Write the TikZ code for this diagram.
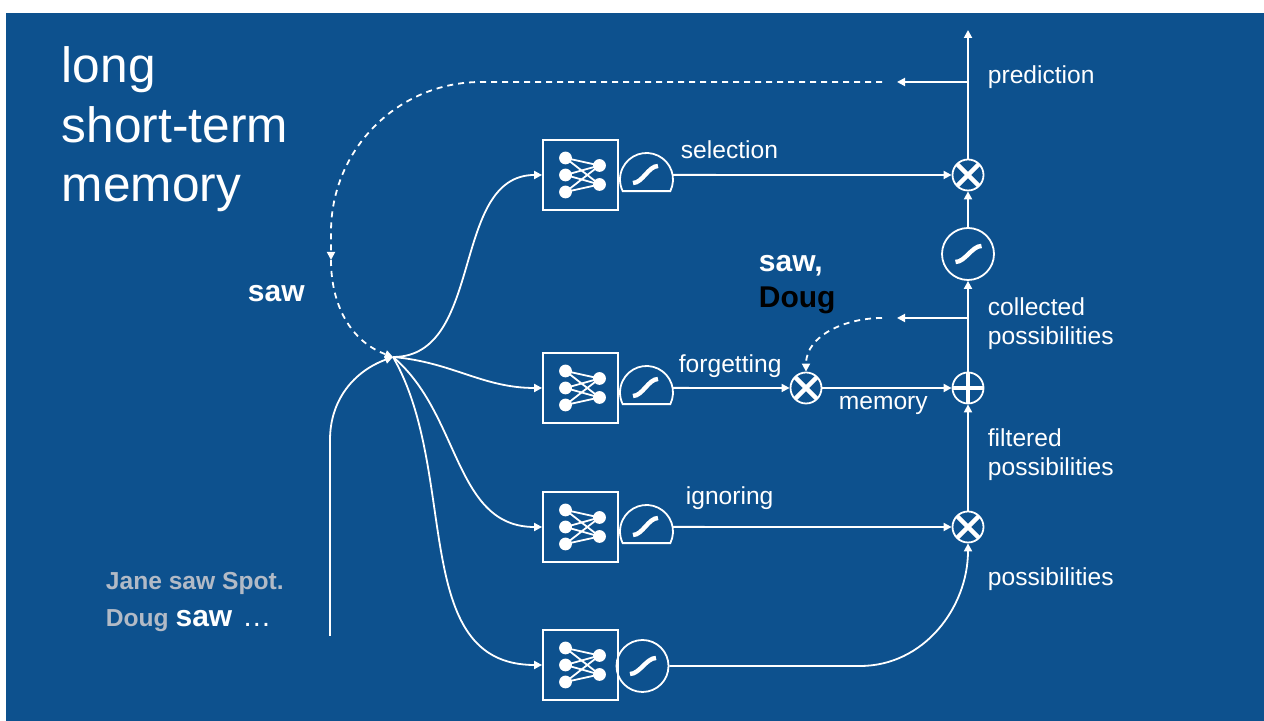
\documentclass[tikz,border=0pt]{standalone}
\usepackage{fontspec}
\setmainfont{Liberation Sans}
\usetikzlibrary{arrows.meta,positioning}
\definecolor{slide}{RGB}{13,81,142}
\definecolor{faded}{RGB}{178,186,198}

\begin{document}
\begin{tikzpicture}[x=0.5pt,y=0.5pt,white,line width=0.9pt,
    >={Triangle[length=4pt,width=4pt]},
    feedback/.style={dash pattern=on 3pt off 2.5pt},
    network/.style={draw, inner sep=0, minimum width=37.5pt, minimum height=35pt,
      path picture={
        \foreach \ly in {8.5,0,-8.5}
          \foreach \ry in {4.75,-4.75}
            \draw[white,line width=0.9pt] ([shift={(-7.5pt,\ly pt)}]path picture bounding box.center)
              -- ([shift={(9.5pt,\ry pt)}]path picture bounding box.center);
        \foreach \ly in {8.5,0,-8.5}
          \fill[white] ([shift={(-7.5pt,\ly pt)}]path picture bounding box.center) circle[radius=3.2pt];
        \foreach \ry in {4.75,-4.75}
          \fill[white] ([shift={(9.5pt,\ry pt)}]path picture bounding box.center) circle[radius=3.2pt];
      }},
    squash/.style={circle, draw, inner sep=0, minimum size=26pt,
      path picture={
        \draw[white,line width=2.2pt] ([shift={(-6.25pt,-4pt)}]path picture bounding box.center)
          to[out=0,in=180,looseness=0.8] ([shift={(6.75pt,4pt)}]path picture bounding box.center);
      }},
    dome/.style={circle, inner sep=0, outer sep=0, minimum size=26.5pt,
      path picture={
        \draw[white,line width=2.2pt] ([shift={(-6.75pt,-1.75pt)}]path picture bounding box.center)
          to[out=0,in=180,looseness=0.8] ([shift={(5.75pt,6.75pt)}]path picture bounding box.center);
      }},
    mult/.style={circle, draw, inner sep=0, minimum size=15.5pt,
      path picture={
        \draw[white,line width=2.2pt] (path picture bounding box.north west) -- (path picture bounding box.south east)
          (path picture bounding box.north east) -- (path picture bounding box.south west);
      }},
    adder/.style={circle, draw, inner sep=0, minimum size=15.5pt,
      path picture={
        \draw[white,line width=2.2pt] (path picture bounding box.north) -- (path picture bounding box.south)
          (path picture bounding box.east) -- (path picture bounding box.west);
      }},
    heading/.style={anchor=base west, inner sep=0, font=\fontsize{24.8pt}{30pt}\selectfont},
    lbl/.style={anchor=west, inner sep=0, align=left, font=\fontsize{12.3pt}{14.5pt}\selectfont},
    word/.style={anchor=base west, inner sep=0, font=\bfseries\fontsize{15pt}{18pt}\selectfont},
    context/.style={anchor=base west, inner sep=0, text=faded, font=\bfseries\fontsize{12.3pt}{15pt}\selectfont}]

   \fill[white] (0,0) rectangle (1264,721);
   \fill[slide] (6,0) rectangle (1264,708);

   \node[heading] (long) at (61,638) {long};
   \node[heading] (short) at (61,578) {short-term};
   \node[heading] (mem) at (61,519) {memory};

   \node[network] (nn1) at (580.5,546) {};
   \node[network] (nn2) at (580.5,333) {};
   \node[network] (nn3) at (580.5,194) {};
   \node[network] (nn4) at (580.5,56) {};
   \node[dome] (d1) at (646.5,541.5) {};
   \node[dome] (d2) at (646.5,328.5) {};
   \node[dome] (d3) at (646.5,189.5) {};
   \foreach \d in {d1,d2,d3}
     \draw (\d.-26) arc[start angle=-26, end angle=206, radius=13.25pt] -- cycle;
   \node[squash] (s4) at (642.5,55) {};
   \node[squash] (s5) at (968,467) {};
   \node[mult] (mul1) at (968,546) {};
   \node[mult] (fx) at (806,333) {};
   \node[adder] (add) at (968,333) {};
   \node[mult] (mul3) at (968,194) {};

   \coordinate (hub) at (393,364);
   \coordinate (src) at (330,85);
   \coordinate (bend) at (330,281);
   \coordinate (turn) at (860,55);
   \coordinate (top) at (968,691);
   \coordinate (p1) at (968,639);
   \coordinate (p2) at (897,639);
   \coordinate (fb1) at (882,639);
   \coordinate (mid) at (331,461);
   \coordinate (c1) at (968,403);
   \coordinate (c2) at (897,403);
   \coordinate (fb2) at (882,403);

   \draw[->] (src) -- (bend) to[out=90,in=200] (hub);
   \draw[->] (hub) to[out=0,in=180] (nn1);
   \draw[->] (hub) to[out=-5,in=180] (nn2);
   \draw[->] (hub) to[out=-40,in=180] (nn3);
   \draw[->] (hub) to[out=-60,in=180] (nn4);
   \draw[->] (d1.10) -- (mul1);
   \draw[->] (d2.10) -- (fx);
   \draw[->] (d3.10) -- (mul3);
   \draw[->] (s4) -- (turn) to[out=0,in=-90] (mul3);
   \draw[->] (mul3) -- (add);
   \draw[->] (fx) -- (add);
   \draw[->] (add) -- (s5);
   \draw[->] (s5) -- (mul1);
   \draw[->] (mul1) -- (top);
   \draw[->] (p1) -- (p2);
   \draw[->] (c1) -- (c2);
   \draw[feedback,->,rounded corners=75pt] (fb1) -| (mid);
   \draw[feedback,->] (mid) to[out=-90,in=160] (hub);
   \draw[feedback,->] (fb2) to[out=180,in=90] (fx);

   \node[lbl] (prediction) at (987,644) {prediction};
   \node[lbl] (selection) at (680,571) {selection};
   \node[lbl] (collected) at (987,397.5) {collected\\possibilities};
   \node[lbl] (forgetting) at (678,355) {forgetting};
   \node[lbl] (memory) at (838,316) {memory};
   \node[lbl] (filtered) at (987,266.5) {filtered\\possibilities};
   \node[lbl] (ignoring) at (685,223) {ignoring};
   \node[lbl] (possibilities) at (987,142) {possibilities};

   \node[word] (saw) at (247,419) {saw};
   \node[word] (sawc) at (758,449) {saw,};
   \node[word, text=black] (doug) at (758,413) {Doug};
   \node[context] (jane) at (105,131) {Jane saw Spot.};
   \node[context] (dougsaw) at (105,94) {Doug \textcolor{white}{\fontsize{15pt}{18pt}\selectfont saw}\hspace{5pt}\textcolor{white}{\mdseries\fontsize{14.5pt}{15pt}\selectfont …}};
 \end{tikzpicture}
\end{document}
